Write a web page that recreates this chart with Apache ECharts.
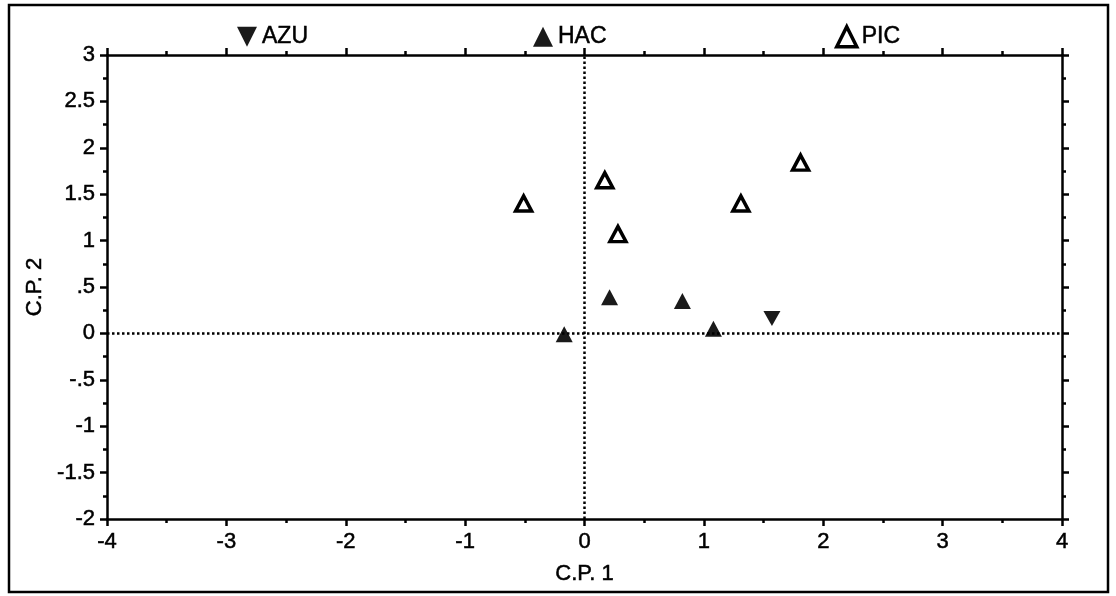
<!DOCTYPE html>
<html>
<head>
<meta charset="utf-8">
<script src="https://cdn.jsdelivr.net/npm/echarts@6/dist/echarts.min.js"></script>
<style>html,body{margin:0;padding:0;background:#fff}#c{width:1116px;height:596px}</style>
</head>
<body>
<div id="c"></div>
<script>
const seriesNames = ['AZU', 'HAC', 'PIC'];
const azuData = [[1.57, 0.16]];
const hacData = [[0.21, 0.39], [0.82, 0.35], [1.08, 0.05], [-0.17, -0.01], [0.28, 1.07]];
const picData = [[-0.51, 1.40], [0.17, 1.65], [0.28, 1.07], [1.31, 1.40], [1.81, 1.84]];
const xLabels = ['-4', '-3', '-2', '-1', '0', '1', '2', '3', '4'];
const yLabels = ['-2', '-1.5', '-1', '-.5', '0', '.5', '1', '1.5', '2', '2.5', '3'];

const FONT = 'Liberation Sans';
const downTri = 'path://M0,0 L10,0 L5,10 Z';
const chart = echarts.init(document.getElementById('c'));

function fmtY(v) {
  const idx = Math.round((v + 2) / 0.5);
  return yLabels[idx] !== undefined ? yLabels[idx] : '';
}
function fmtX(v) {
  const idx = Math.round(v + 4);
  return xLabels[idx] !== undefined ? xLabels[idx] : '';
}
const txt = { fontFamily: FONT, fontSize: 22, color: '#000', textBorderColor: '#000', textBorderWidth: 0.5 };
const axisLine = { show: true, onZero: false, lineStyle: { color: '#000', width: 2.5 } };
const tick = { show: true, length: 7, lineStyle: { color: '#000', width: 2.5 } };
const minor = { show: true, splitNumber: 2, length: 4, lineStyle: { color: '#000', width: 2.5 } };

const legendCommon = {
  top: 20, itemWidth: 20, itemHeight: 20, itemGap: 4,
  textStyle: Object.assign({}, txt, { fontSize: 23, padding: [0, 0, 0, 0] }),
  selectedMode: false
};

chart.setOption({
  animation: false,
  backgroundColor: '#fff',
  legend: [
    Object.assign({ left: 232, data: [{ name: 'AZU', icon: downTri }] }, legendCommon),
    Object.assign({ left: 528, data: [{ name: 'HAC', icon: 'triangle' }] }, legendCommon),
    Object.assign({ left: 830, data: [{ name: 'PIC', icon: 'triangle', itemStyle: { color: '#fff', borderColor: '#000', borderWidth: 3.5, opacity: 1 } }] }, legendCommon)
  ],
  graphic: [{
    type: 'rect', shape: { x: 9, y: 5, width: 1099, height: 587 },
    style: { fill: 'none', stroke: '#000', lineWidth: 2.5 }, silent: true
  }],
  grid: { left: 107, right: 54, top: 55, bottom: 77 },
  xAxis: [{
    type: 'value', min: -4, max: 4, interval: 1, position: 'bottom',
    axisLine: axisLine, axisTick: tick, minorTick: minor,
    splitLine: { show: false },
    axisLabel: Object.assign({ formatter: fmtX, margin: 12 }, txt),
    name: 'C.P. 1', nameLocation: 'middle', nameGap: 44,
    nameTextStyle: txt
  }, {
    type: 'value', min: -4, max: 4, interval: 1, position: 'top',
    axisLine: axisLine, axisTick: tick, minorTick: minor,
    splitLine: { show: false }, axisLabel: { show: false }
  }],
  yAxis: [{
    type: 'value', min: -2, max: 3, interval: 0.5, position: 'left',
    axisLine: axisLine, axisTick: tick, minorTick: minor,
    splitLine: { show: false },
    axisLabel: Object.assign({ formatter: fmtY, margin: 12 }, txt),
    name: 'C.P. 2', nameLocation: 'middle', nameGap: 56, nameRotate: 90,
    nameTextStyle: txt
  }, {
    type: 'value', min: -2, max: 3, interval: 0.5, position: 'right',
    axisLine: axisLine, axisTick: tick, minorTick: minor,
    splitLine: { show: false }, axisLabel: { show: false }
  }],
  series: [{
    name: 'AZU', type: 'scatter', data: azuData, symbol: downTri, symbolSize: [17, 15],
    itemStyle: { color: '#1a1a1a', opacity: 1 },
    markLine: {
      silent: true, symbol: 'none', label: { show: false },
      lineStyle: { color: '#000', width: 2.5, type: 'dotted' },
      data: [{ xAxis: 0 }, { yAxis: 0 }]
    }
  }, {
    name: 'HAC', type: 'scatter', data: hacData, symbol: 'triangle', symbolSize: [17, 16],
    itemStyle: { color: '#1a1a1a', opacity: 1 }
  }, {
    name: 'PIC', type: 'scatter', data: picData, symbol: 'triangle', symbolSize: [16, 15],
    itemStyle: { color: '#fff', borderColor: '#000', borderWidth: 3.5, opacity: 1 }
  }]
});
</script>
</body>
</html>
